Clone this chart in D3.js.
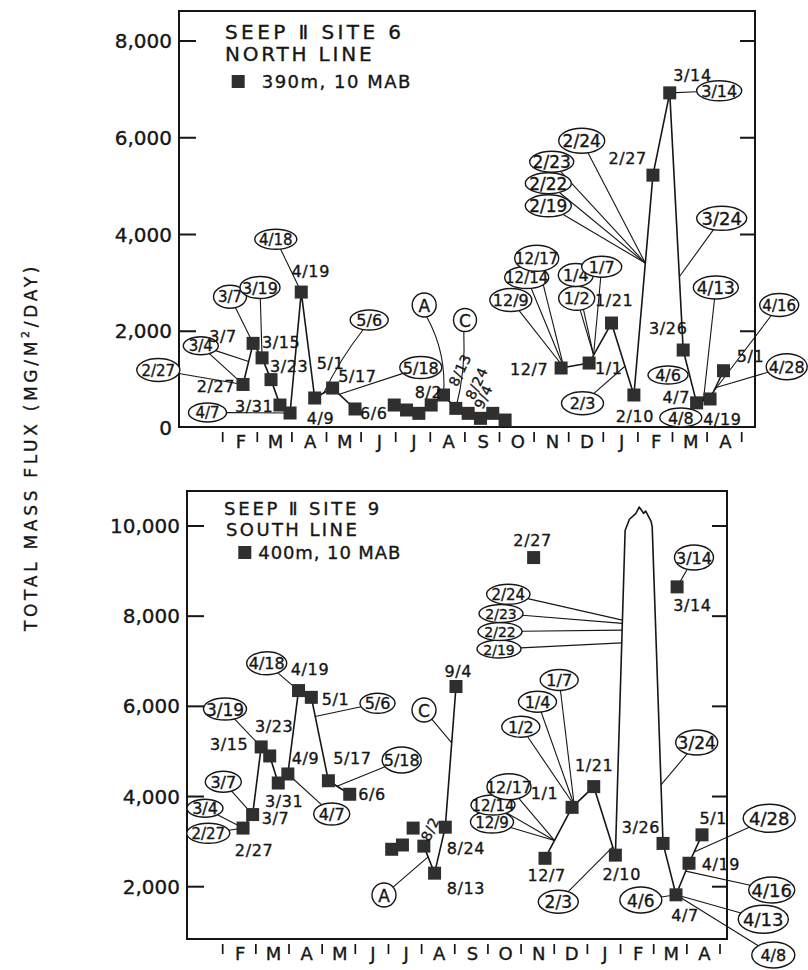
<!DOCTYPE html>
<html>
<head>
<meta charset="utf-8">
<script src="https://cdn.jsdelivr.net/npm/d3@7"></script>
<style>
  html, body { margin: 0; padding: 0; background: #fff; }
  svg { display: block; font-family: "DejaVu Sans", sans-serif; }
  svg text { stroke: #161616; stroke-width: 0.35px; }
</style>
</head>
<body>
<svg id="chart" width="808" height="970"></svg>
<script>
// ---------------- data ----------------
const months = ["F","M","A","M","J","J","A","S","O","N","D","J","F","M","A"];

// Site 6, north line: 390 m depth, 10 m above bottom (mg/m2/day)
const northDates = [
  "1988-02-27","1988-03-07","1988-03-15","1988-03-23","1988-03-31","1988-04-09","1988-04-19","1988-05-01","1988-05-17","1988-06-06",
  "1988-07-11","1988-07-22","1988-08-02","1988-08-13","1988-08-24","1988-09-04","1988-09-15","1988-09-26","1988-10-07","1988-10-18",
  "1988-12-07","1989-01-01","1989-01-21","1989-02-10","1989-02-27","1989-03-14","1989-03-26","1989-04-07","1989-04-19","1989-05-01"];
const northFlux = [
  900, 1750, 1450, 1000, 475, 310, 2810, 620, 826, 393,
  475, 372, 303, 475, 682, 406, 303, 200, 303, 165,
  1240, 1343, 2170, 682, 5227, 6928, 1612, 520, 600, 1184];
const northRunStarts = ["1988-07-11", "1988-12-07"];
const northTicks = [0, 2000, 4000, 6000, 8000];

// Site 9, south line: 400 m depth, 10 m above bottom (mg/m2/day)
const southDates = [
  "1988-02-27","1988-03-07","1988-03-15","1988-03-23","1988-03-31","1988-04-09","1988-04-19","1988-05-01","1988-05-17","1988-06-06",
  "1988-06-30","1988-07-11","1988-07-22","1988-08-02","1988-08-13","1988-08-24","1988-09-04",
  "1988-12-07","1989-01-01","1989-01-21","1989-02-10","1989-03-26","1989-04-07","1989-04-19","1989-05-01"];
const southFlux = [
  3300, 3600, 5100, 4900, 4300, 4500, 6350, 6200, 4350, 4050,
  2830, 2925, 3300, 2900, 2300, 3320, 6440,
  2630, 3760, 4220, 2700, 2960, 1820, 2520, 3150];
const southRunStarts = ["1988-06-30", "1988-07-11", "1988-07-22", "1988-08-02", "1988-12-07"];
// truncated outline of the off-scale February-March peak
const southPeakDates = ["1989-02-19","1989-02-23","1989-03-01","1989-03-04","1989-03-07","1989-03-08","1989-03-10","1989-03-15","1989-03-16"];
const southPeakFlux = [9900, 10150, 10280, 10420, 10320, 10280, 10330, 10100, 9980];
// peak samples shown beside the outline
const southInsetDates = ["1989-02-27", "1989-03-14"];
const southInsetFlux = [9300, 8650];
const southInsetShownAt = ["1988-11-25", "1989-04-08"];
const southTicks = [2000, 4000, 6000, 8000, 10000];

// ---------------- helpers ----------------
const parse = d3.utcParse("%Y-%m-%d");
const md = d => `${d.getUTCMonth() + 1}/${d.getUTCDate()}`;
const ink = "#161616";
const svg = d3.select("#chart");

function leaderPath(b, p, bend) {
  const dx = p[0] - b.cx, dy = p[1] - b.cy;
  const k = 1 / Math.sqrt((dx / b.rx) ** 2 + (dy / b.ry) ** 2);
  const s = [b.cx + dx * k, b.cy + dy * k];
  if (!bend) return `M${s[0]},${s[1]}L${p[0]},${p[1]}`;
  const len = Math.hypot(p[0] - s[0], p[1] - s[1]);
  const nx = (p[1] - s[1]) / len, ny = -(p[0] - s[0]) / len;
  const cx = (s[0] + p[0]) / 2 + nx * bend, cy = (s[1] + p[1]) / 2 + ny * bend;
  return `M${s[0]},${s[1]}Q${cx},${cy} ${p[0]},${p[1]}`;
}

function drawPanel(cfg) {
  const { frame, x, y, ticks, tickLabelX, bandRange, dates, flux, runStarts,
          extra, insets, notes, labels, legend } = cfg;
  const g = svg.append("g");

  // frame
  g.append("rect")
    .attr("x", frame.left).attr("y", frame.top)
    .attr("width", frame.right - frame.left).attr("height", frame.bottom - frame.top)
    .attr("fill", "none").attr("stroke", ink).attr("stroke-width", 2);

  // value ticks on both sides + labels
  const inner = ticks.filter(v => y(v) < frame.bottom - 3);
  g.selectAll(null).data(inner).join("line")
    .attr("x1", frame.left).attr("x2", frame.left + 17)
    .attr("y1", d => y(d)).attr("y2", d => y(d))
    .attr("stroke", ink).attr("stroke-width", 2);
  g.selectAll(null).data(inner).join("line")
    .attr("x1", frame.right - 15).attr("x2", frame.right)
    .attr("y1", d => y(d)).attr("y2", d => y(d))
    .attr("stroke", ink).attr("stroke-width", 2);
  g.selectAll(null).data(ticks).join("text")
    .attr("x", tickLabelX).attr("y", d => y(d))
    .attr("text-anchor", "end").attr("dominant-baseline", "central")
    .attr("font-size", 20).attr("fill", ink)
    .text(d3.format(","));

  // month strip under the base
  const band = d3.scaleBand().domain(d3.range(months.length)).range(bandRange);
  const seps = d3.range(months.length + 1).map(i => bandRange[0] + i * band.step());
  g.selectAll(null).data(seps).join("line")
    .attr("x1", d => d).attr("x2", d => d)
    .attr("y1", frame.bottom + 5).attr("y2", frame.bottom + 15)
    .attr("stroke", ink).attr("stroke-width", 1.7);
  g.selectAll(null).data(months).join("text")
    .attr("x", (d, i) => band(i) + band.bandwidth() / 2 + 1)
    .attr("y", frame.bottom + 21)
    .attr("text-anchor", "middle").attr("font-size", 18).attr("fill", ink)
    .text(d => d);

  // points
  const pts = dates.map((d, i) => ({ id: d, date: parse(d), v: flux[i] }));
  const pos = new Map(pts.map(p => [p.id, [x(p.date), y(p.v)]]));
  const outline = (extra || []).map(p => ({ id: p.id, date: parse(p.id), v: p.v }));
  outline.forEach(p => pos.set(p.id, [x(p.date), y(p.v)]));
  const insetPts = (insets || []).map(p => ({ id: p.id, date: parse(p.id), at: parse(p.at), v: p.v }));
  insetPts.forEach(p => pos.set(p.id, [x(p.at), y(p.v)]));

  // connected runs
  const all = pts.concat(outline).sort((a, b) => a.date - b.date);
  const runs = [];
  let cur = [];
  all.forEach(p => {
    if (runStarts.includes(p.id) && cur.length) { runs.push(cur); cur = []; }
    cur.push(p);
  });
  runs.push(cur);
  const line = d3.line().x(p => x(p.date)).y(p => y(p.v));
  g.selectAll(null).data(runs.filter(r => r.length > 1)).join("path")
    .attr("d", line).attr("fill", "none")
    .attr("stroke", ink).attr("stroke-width", 1.6).attr("stroke-linejoin", "round");

  // annotation leaders
  const resolve = t => {
    if (t.length === 1) return pos.get(t[0]);
    const a = pos.get(t[0]), b = pos.get(t[1]), f = t[2];
    return [a[0] + (b[0] - a[0]) * f, a[1] + (b[1] - a[1]) * f];
  };
  notes.forEach(n => {
    const b = { cx: n.cx, cy: n.cy, rx: n.r || n.rx, ry: n.r || n.ry };
    (n.to || []).forEach(t => {
      g.append("path").attr("d", leaderPath(b, resolve(t), n.bend || 0))
        .attr("fill", "none").attr("stroke", ink).attr("stroke-width", 1.1);
    });
  });

  // annotation bubbles
  notes.forEach(n => {
    g.append("ellipse")
      .attr("cx", n.cx).attr("cy", n.cy)
      .attr("rx", n.r || n.rx).attr("ry", n.r || n.ry)
      .attr("fill", "#fff").attr("stroke", ink).attr("stroke-width", 1.4);
    g.append("text")
      .attr("x", n.cx).attr("y", n.cy + 0.5)
      .attr("text-anchor", "middle").attr("dominant-baseline", "central")
      .attr("font-size", n.fs || 15).attr("fill", ink)
      .text(n.text);
  });

  // sample markers
  g.selectAll(null).data(pts.concat(insetPts)).join("rect")
    .attr("x", p => pos.get(p.id)[0] - 6.5).attr("y", p => pos.get(p.id)[1] - 6.5)
    .attr("width", 13).attr("height", 13)
    .attr("fill", "#2f2f2f");

  // date labels beside the markers
  labels.forEach(l => {
    const p = pos.get(l.id);
    const tx = p[0] + l.dx, ty = p[1] + l.dy;
    const t = g.append("text")
      .attr("x", tx).attr("y", ty)
      .attr("text-anchor", l.a).attr("dominant-baseline", "central")
      .attr("font-size", l.rot ? 14 : 16).attr("letter-spacing", 0.6)
      .attr("fill", ink)
      .text(md(parse(l.id)));
    if (l.rot) t.attr("transform", `rotate(${l.rot},${tx},${ty})`);
  });

  // legend
  legend.lines.forEach(l => {
    g.append("text").attr("x", l.x).attr("y", l.y)
      .attr("dominant-baseline", "central")
      .attr("font-size", l.fs).attr("letter-spacing", l.ls).attr("fill", ink)
      .text(l.t);
  });
  g.append("rect").attr("x", legend.sq[0]).attr("y", legend.sq[1])
    .attr("width", 13).attr("height", 13).attr("fill", "#2f2f2f");
}

// ---------------- north line (site 6) ----------------
drawPanel({
  frame: { left: 179, right: 755, top: 11, bottom: 427 },
  x: d3.scaleUtc().domain([parse("1988-02-01"), parse("1989-05-01")]).range([213.9, 723.5]),
  y: d3.scaleLinear().domain([0, 8000]).range([428, 41]),
  ticks: northTicks,
  tickLabelX: 172,
  bandRange: [222.7, 741.7],
  dates: northDates, flux: northFlux, runStarts: northRunStarts,
  notes: [
    { text: "2/27", cx: 158.3, cy: 370, rx: 21.5, ry: 11.5, fs: 15, to: [["1988-02-27"]] },
    { text: "3/4", cx: 200.8, cy: 345.8, rx: 17.5, ry: 9, fs: 15, to: [["1988-02-27"], ["1988-02-27", "1988-03-07", 0.56]] },
    { text: "3/7", cx: 230, cy: 296.7, rx: 16.5, ry: 11.5, fs: 15, to: [["1988-03-07"]] },
    { text: "3/19", cx: 260, cy: 287.5, rx: 20, ry: 11, fs: 16, to: [["1988-03-15"]] },
    { text: "4/7", cx: 207.5, cy: 412.5, rx: 19, ry: 9.5, fs: 15, to: [["1988-04-09"]] },
    { text: "4/18", cx: 275.8, cy: 239.2, rx: 21, ry: 10, fs: 15, to: [["1988-04-19"]] },
    { text: "5/6", cx: 369.2, cy: 320, rx: 19, ry: 10, fs: 16, bend: -4, to: [["1988-05-01", "1988-05-17", 0.5]] },
    { text: "5/18", cx: 420.8, cy: 367.5, rx: 21, ry: 11, fs: 16, to: [["1988-05-17", "1988-06-06", 0.3]] },
    { text: "A", cx: 424.2, cy: 305, r: 12, fs: 17, bend: 12, to: [["1988-08-24"]] },
    { text: "C", cx: 465, cy: 320, r: 11.5, fs: 17, bend: 6, to: [["1988-09-04"]] },
    { text: "3/14", cx: 719.2, cy: 90.8, rx: 22.5, ry: 10, fs: 16, to: [["1989-03-14"]] },
    { text: "2/24", cx: 581.7, cy: 140.8, rx: 23, ry: 12.5, fs: 17, to: [["1989-02-10", "1989-02-27", 0.6]] },
    { text: "2/23", cx: 551.7, cy: 161.7, rx: 22, ry: 10.5, fs: 17, to: [["1989-02-10", "1989-02-27", 0.6]] },
    { text: "2/22", cx: 548.3, cy: 183.3, rx: 23, ry: 10.5, fs: 17, to: [["1989-02-10", "1989-02-27", 0.6]] },
    { text: "2/19", cx: 548.3, cy: 205.8, rx: 23, ry: 11, fs: 17, to: [["1989-02-10", "1989-02-27", 0.6]] },
    { text: "3/24", cx: 721.7, cy: 218.3, rx: 25, ry: 12, fs: 18, to: [["1989-03-14", "1989-03-26", 0.715]] },
    { text: "4/13", cx: 715.8, cy: 287.5, rx: 22.5, ry: 11.5, fs: 17, to: [["1989-04-07", "1989-04-19", 0.5]] },
    { text: "4/16", cx: 779.2, cy: 305, rx: 19.5, ry: 11.5, fs: 15, to: [["1989-04-07", "1989-04-19", 0.8]] },
    { text: "4/28", cx: 786.7, cy: 366.7, rx: 20.5, ry: 13, fs: 16, to: [["1989-04-19", "1989-05-01", 0.4]] },
    { text: "4/6", cx: 668, cy: 375, rx: 20, ry: 9, fs: 16 },
    { text: "4/8", cx: 680.8, cy: 417.5, rx: 21, ry: 9.5, fs: 16 },
    { text: "2/3", cx: 582.5, cy: 403.3, rx: 21, ry: 11.5, fs: 16, to: [["1989-01-21", "1989-02-10", 0.6]] },
    { text: "12/9", cx: 510.8, cy: 300, rx: 21, ry: 11.5, fs: 16, to: [["1988-12-07", "1989-01-01", 0.1]] },
    { text: "12/14", cx: 526.7, cy: 277.5, rx: 22, ry: 11, fs: 15, to: [["1988-12-07", "1989-01-01", 0.1]] },
    { text: "12/17", cx: 536.7, cy: 258.3, rx: 22, ry: 13, fs: 15, to: [["1988-12-07", "1989-01-01", 0.1]] },
    { text: "1/2", cx: 576.7, cy: 298.3, rx: 18, ry: 12, fs: 16, to: [["1989-01-01", "1989-01-21", 0.2]] },
    { text: "1/4", cx: 575.8, cy: 275, rx: 17.5, ry: 11.5, fs: 16, to: [["1989-01-01", "1989-01-21", 0.2]] },
    { text: "1/7", cx: 601.7, cy: 266.7, rx: 20, ry: 10.5, fs: 16, to: [["1989-01-01", "1989-01-21", 0.2]] }
  ],
  labels: [
    { id: "1988-02-27", a: "end", dx: -8, dy: 2 },
    { id: "1988-03-07", a: "end", dx: -16.4, dy: -6.6 },
    { id: "1988-03-15", a: "start", dx: 0, dy: -15 },
    { id: "1988-03-23", a: "start", dx: -1, dy: -13.6 },
    { id: "1988-03-31", a: "end", dx: -6.7, dy: 1.7 },
    { id: "1988-04-09", a: "start", dx: 16.6, dy: 5.3 },
    { id: "1988-04-19", a: "middle", dx: 9.5, dy: -20.3 },
    { id: "1988-05-01", a: "start", dx: 2, dy: -34.7 },
    { id: "1988-05-17", a: "start", dx: 5.7, dy: -11.3 },
    { id: "1988-06-06", a: "start", dx: 5, dy: 5 },
    { id: "1988-08-02", a: "middle", dx: 9.6, dy: -21.3 },
    { id: "1988-08-13", a: "middle", dx: 28.8, dy: -35, rot: -65 },
    { id: "1988-08-24", a: "middle", dx: 33.2, dy: -11.7, rot: -65 },
    { id: "1988-09-04", a: "middle", dx: 27.5, dy: -11.6, rot: -65 },
    { id: "1988-12-07", a: "end", dx: -12.8, dy: 1 },
    { id: "1989-01-01", a: "start", dx: 5.9, dy: 5 },
    { id: "1989-01-21", a: "middle", dx: 2.7, dy: -22.2 },
    { id: "1989-02-10", a: "middle", dx: 1, dy: 21 },
    { id: "1989-02-27", a: "end", dx: -6.2, dy: -16.7 },
    { id: "1989-03-14", a: "start", dx: 3.6, dy: -17.7 },
    { id: "1989-03-26", a: "middle", dx: -14.9, dy: -21.7 },
    { id: "1989-04-07", a: "end", dx: -6.6, dy: -5.3 },
    { id: "1989-04-19", a: "start", dx: -6.8, dy: 21 },
    { id: "1989-05-01", a: "start", dx: 13.2, dy: -14 }
  ],
  legend: {
    lines: [
      { t: "SEEP Ⅱ SITE 6", x: 225, y: 31.7, fs: 20, ls: 3.4 },
      { t: "NORTH LINE", x: 225, y: 54, fs: 20, ls: 2.8 },
      { t: "390m, 10 MAB", x: 261.7, y: 81.7, fs: 18, ls: 1.5 }
    ],
    sq: [231.7, 75]
  }
});

// ---------------- south line (site 9) ----------------
drawPanel({
  frame: { left: 187, right: 727, top: 491, bottom: 939 },
  x: d3.scaleUtc()
    .domain(["1988-02-01", "1988-06-10", "1988-06-30", "1988-09-04", "1988-12-07", "1989-05-01"].map(parse))
    .range([215.3, 354, 391.7, 456, 545, 702]),
  y: d3.scaleLinear().domain([2000, 10000]).range([886.7, 526]),
  ticks: southTicks,
  tickLabelX: 180,
  bandRange: [222.7, 720],
  dates: southDates, flux: southFlux, runStarts: southRunStarts,
  extra: southPeakDates.map((d, i) => ({ id: d, v: southPeakFlux[i] })),
  insets: southInsetDates.map((d, i) => ({ id: d, v: southInsetFlux[i], at: southInsetShownAt[i] })),
  notes: [
    { text: "4/18", cx: 266.7, cy: 663.3, rx: 20, ry: 11.5, fs: 16, to: [["1988-04-19"]] },
    { text: "5/6", cx: 377.5, cy: 703.3, rx: 17.5, ry: 10, fs: 16, to: [["1988-05-01", "1988-05-17", 0.23]] },
    { text: "3/19", cx: 225, cy: 709, rx: 21.5, ry: 11, fs: 17, to: [["1988-03-15"]] },
    { text: "5/18", cx: 401.7, cy: 760, rx: 19.5, ry: 13, fs: 16, to: [["1988-05-17", "1988-06-06", 0.4]] },
    { text: "3/7", cx: 223.3, cy: 781.7, rx: 18, ry: 10.5, fs: 16, to: [["1988-03-07"]] },
    { text: "4/7", cx: 331.7, cy: 814, rx: 18, ry: 11, fs: 16, to: [["1988-04-09"]] },
    { text: "3/4", cx: 205, cy: 808.3, rx: 18, ry: 9, fs: 16, to: [["1988-02-27"]] },
    { text: "2/27", cx: 208.3, cy: 833.3, rx: 21.5, ry: 10, fs: 15, to: [["1988-02-27"]] },
    { text: "C", cx: 424, cy: 710, r: 12, fs: 17, to: [["1988-08-24", "1988-09-04", 0.6]] },
    { text: "A", cx: 384, cy: 895, r: 12, fs: 17, to: [["1988-08-02", "1988-08-13", 0.4]] },
    { text: "3/14", cx: 694, cy: 557.5, rx: 19.5, ry: 12.5, fs: 16, to: [["1989-03-14"]] },
    { text: "2/19", cx: 499, cy: 649, rx: 22, ry: 9, fs: 14, to: [["1989-02-10", "1989-02-19", 0.654]] },
    { text: "2/22", cx: 500, cy: 631.5, rx: 22, ry: 9, fs: 14, to: [["1989-02-10", "1989-02-19", 0.693]] },
    { text: "2/23", cx: 501, cy: 613.5, rx: 22, ry: 9, fs: 14, to: [["1989-02-10", "1989-02-19", 0.714]] },
    { text: "2/24", cx: 508.3, cy: 594.2, rx: 21.7, ry: 10, fs: 15, to: [["1989-02-10", "1989-02-19", 0.724]] },
    { text: "3/24", cx: 696.7, cy: 742.5, rx: 21, ry: 12.5, fs: 17, to: [["1989-03-16", "1989-03-26", 0.815]] },
    { text: "1/2", cx: 520.8, cy: 726.7, rx: 19, ry: 10.5, fs: 16, to: [["1989-01-01", "1989-01-21", 0.1]] },
    { text: "1/4", cx: 537.5, cy: 701.7, rx: 19, ry: 10.5, fs: 16, to: [["1989-01-01", "1989-01-21", 0.1]] },
    { text: "1/7", cx: 559.2, cy: 680, rx: 19, ry: 10.5, fs: 16, to: [["1989-01-01", "1989-01-21", 0.1]] },
    { text: "12/9", cx: 492, cy: 822, rx: 21.5, ry: 11, fs: 15, to: [["1988-12-07", "1989-01-01", 0.35]] },
    { text: "12/14", cx: 493, cy: 805, rx: 22, ry: 10, fs: 15, to: [["1988-12-07", "1989-01-01", 0.35]] },
    { text: "12/17", cx: 509, cy: 786.7, rx: 22, ry: 13, fs: 16, to: [["1988-12-07", "1989-01-01", 0.35]] },
    { text: "2/3", cx: 558.3, cy: 901.7, rx: 20, ry: 11.5, fs: 17, to: [["1989-01-21", "1989-02-10", 0.88]] },
    { text: "4/6", cx: 640.8, cy: 900, rx: 21, ry: 13, fs: 17, to: [["1989-04-07"]] },
    { text: "4/28", cx: 769.2, cy: 818.3, rx: 26, ry: 14, fs: 18, to: [["1989-04-19", "1989-05-01", 0.4]] },
    { text: "4/16", cx: 771.7, cy: 890, rx: 23, ry: 13, fs: 18, to: [["1989-04-07", "1989-04-19", 0.75]] },
    { text: "4/13", cx: 763.3, cy: 919.2, rx: 25, ry: 14, fs: 18, to: [["1989-04-07"]] },
    { text: "4/8", cx: 773.3, cy: 955, rx: 21.5, ry: 13, fs: 16, to: [["1989-04-07"]] }
  ],
  labels: [
    { id: "1988-02-27", a: "middle", dx: 11, dy: 22 },
    { id: "1988-03-07", a: "start", dx: 9.1, dy: 4.4 },
    { id: "1988-03-15", a: "end", dx: -12.9, dy: -2 },
    { id: "1988-03-23", a: "middle", dx: 4.5, dy: -29.3 },
    { id: "1988-03-31", a: "middle", dx: 5.9, dy: 18.7 },
    { id: "1988-04-09", a: "start", dx: 3.8, dy: -15.3 },
    { id: "1988-04-19", a: "middle", dx: 11.5, dy: -20.6 },
    { id: "1988-05-01", a: "start", dx: 10.4, dy: 1.7 },
    { id: "1988-05-17", a: "start", dx: 4.9, dy: -22.1 },
    { id: "1988-06-06", a: "start", dx: 8.6, dy: 0.7 },
    { id: "1988-08-02", a: "middle", dx: 6.2, dy: -17, rot: -65 },
    { id: "1988-08-13", a: "start", dx: 12.2, dy: 15.1 },
    { id: "1988-08-24", a: "start", dx: 1.4, dy: 21.1 },
    { id: "1988-09-04", a: "middle", dx: 2.3, dy: -15.2 },
    { id: "1988-12-07", a: "middle", dx: 1.7, dy: 17.5 },
    { id: "1989-01-01", a: "end", dx: -13.8, dy: -14.1 },
    { id: "1989-01-21", a: "middle", dx: 0.5, dy: -20.8 },
    { id: "1989-02-10", a: "middle", dx: 6.4, dy: 19.8 },
    { id: "1989-03-26", a: "end", dx: -3, dy: -15.9 },
    { id: "1989-04-07", a: "middle", dx: 9, dy: 21 },
    { id: "1989-04-19", a: "start", dx: 12.7, dy: 1.7 },
    { id: "1989-05-01", a: "middle", dx: 11.3, dy: -15.9 },
    { id: "1989-02-27", a: "middle", dx: -1.1, dy: -16.8 },
    { id: "1989-03-14", a: "middle", dx: 15.4, dy: 18.9 }
  ],
  legend: {
    lines: [
      { t: "SEEP Ⅱ SITE 9", x: 224, y: 508.3, fs: 18, ls: 2.8 },
      { t: "SOUTH LINE", x: 226, y: 529.3, fs: 18, ls: 2.4 },
      { t: "400m, 10 MAB", x: 258.3, y: 552.7, fs: 18, ls: 0.9 }
    ],
    sq: [238.3, 546]
  }
});

// shared value-axis title
const title = svg.append("text")
  .attr("transform", "translate(31,447) rotate(-90)")
  .attr("text-anchor", "middle").attr("dominant-baseline", "central")
  .attr("font-size", 17).attr("letter-spacing", 3.7).attr("fill", ink);
title.append("tspan").text("TOTAL MASS FLUX (MG/M");
title.append("tspan").attr("font-size", 11).attr("dy", -6).text("2");
title.append("tspan").attr("dy", 6).text("/DAY)");
</script>
</body>
</html>
